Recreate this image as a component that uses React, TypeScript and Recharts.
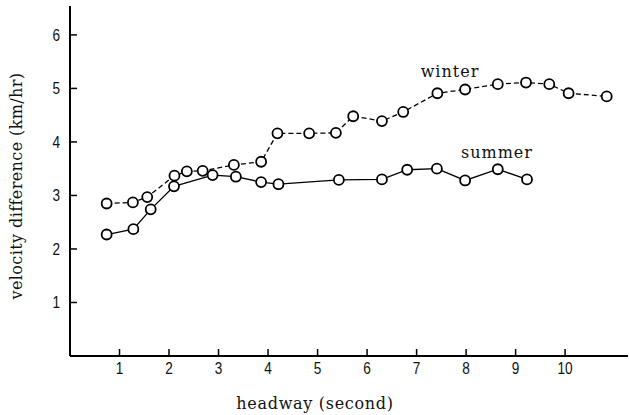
import React from "react";
import { LineChart, Line, XAxis, YAxis } from "recharts";

// ── Data ───────────────────────────────────────────────────────────

const winterX = [0.74, 1.27, 1.56, 2.11, 2.36, 2.68, 3.31, 3.86, 4.19, 4.83, 5.37, 5.72, 6.3, 6.73, 7.42, 7.98, 8.64, 9.21, 9.68, 10.07, 10.84];
const winterY = [2.85, 2.87, 2.97, 3.37, 3.45, 3.46, 3.57, 3.63, 4.16, 4.16, 4.17, 4.48, 4.39, 4.56, 4.91, 4.98, 5.08, 5.11, 5.08, 4.91, 4.85];

const summerX = [0.74, 1.28, 1.63, 2.1, 2.88, 3.35, 3.86, 4.21, 5.43, 6.3, 6.81, 7.41, 7.98, 8.64, 9.23];
const summerY = [2.27, 2.37, 2.74, 3.17, 3.38, 3.35, 3.25, 3.21, 3.29, 3.3, 3.48, 3.5, 3.28, 3.49, 3.3];

const xTicks = [1, 2, 3, 4, 5, 6, 7, 8, 9, 10];
const yTicks = [1, 2, 3, 4, 5, 6];

const winter = winterX.map((x, i) => ({ x, v: winterY[i] }));
const summer = summerX.map((x, i) => ({ x, v: summerY[i] }));

const SERIF = "'DejaVu Serif', serif";
const TICK_FONT = "'Liberation Sans', sans-serif";

// ── Custom ticks (drawn inward, like the original) ────────────────

function XTick({ x, y, payload }: any) {
  return (
    <g>
      <line x1={x} x2={x} y1={y} y2={y - 7} stroke="#000" strokeWidth={1.5} />
      <text
        x={x}
        y={y + 18}
        textAnchor="middle"
        fontFamily={TICK_FONT}
        fontSize={16}
        fill="#111"
        transform={`translate(${x} 0) scale(0.85 1) translate(${-x} 0)`}
      >
        {payload.value}
      </text>
    </g>
  );
}

function YTick({ x, y, payload }: any) {
  return (
    <g>
      <line x1={x} x2={x + 7} y1={y} y2={y} stroke="#000" strokeWidth={1.5} />
      <text
        x={x - 10}
        y={y + 6}
        textAnchor="end"
        fontFamily={TICK_FONT}
        fontSize={16}
        fill="#111"
        transform={`translate(${x - 10} 0) scale(0.85 1) translate(${-(x - 10)} 0)`}
      >
        {payload.value}
      </text>
    </g>
  );
}

const dot = { r: 5, stroke: "#000", strokeWidth: 1.8, fill: "#fff", strokeDasharray: "0" };

export default function App() {
  return (
    <div style={{ position: "absolute", left: 0, top: 0, width: 630, height: 415, background: "#fff" }}>
      <LineChart width={630} height={415} margin={{ top: 6, right: 2, bottom: 0, left: 0 }}>
        <XAxis
          type="number"
          dataKey="x"
          domain={[0, 11.27]}
          ticks={xTicks}
          allowDataOverflow
          height={59}
          tickSize={0}
          tickMargin={0}
          tick={<XTick />}
          axisLine={{ stroke: "#000", strokeWidth: 2 }}
        />
        <YAxis
          type="number"
          domain={[0, 6.54]}
          ticks={yTicks}
          allowDataOverflow
          width={70}
          tickSize={0}
          tickMargin={0}
          tick={<YTick />}
          axisLine={{ stroke: "#000", strokeWidth: 2 }}
        />
        <Line
          data={winter}
          dataKey="v"
          stroke="#000"
          strokeWidth={1.3}
          strokeDasharray="5 3"
          dot={dot}
          activeDot={false}
          isAnimationActive={false}
        />
        <Line
          data={summer}
          dataKey="v"
          stroke="#000"
          strokeWidth={1.3}
          dot={dot}
          activeDot={false}
          isAnimationActive={false}
        />
        <text x={450} y={77} textAnchor="middle" fontFamily={SERIF} fontSize={16} letterSpacing={1} fill="#111">
          winter
        </text>
        <text x={497} y={158} textAnchor="middle" fontFamily={SERIF} fontSize={16} letterSpacing={1} fill="#111">
          summer
        </text>
        <text x={315} y={409} textAnchor="middle" fontFamily={SERIF} fontSize={16} letterSpacing={0.7} fill="#111">
          headway (second)
        </text>
        <text
          x={22}
          y={186}
          textAnchor="middle"
          fontFamily={SERIF}
          fontSize={16}
          letterSpacing={0.4}
          fill="#111"
          transform="rotate(-90 22 186)"
        >
          velocity difference (km/hr)
        </text>
      </LineChart>
    </div>
  );
}
